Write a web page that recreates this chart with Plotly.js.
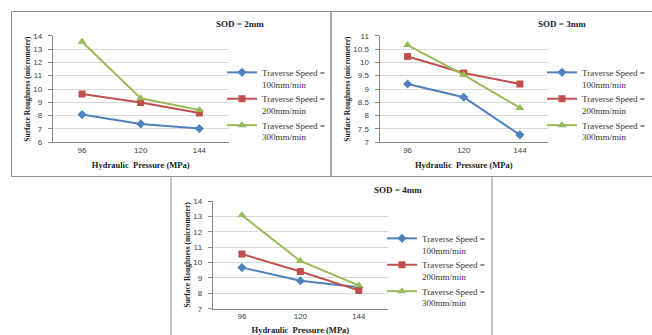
<!DOCTYPE html>
<html>
<head>
<meta charset="utf-8">
<script src="https://cdn.plot.ly/plotly-3.0.1.min.js"></script>
<style>html,body{margin:0;padding:0;background:#fff;}#chart{width:652px;height:335px;}</style>
</head>
<body>
<div id="chart"></div>
<script>
// ---- data ----
const categories = ['96', '120', '144'];
const seriesNames = ['Traverse Speed =<br>100mm/min', 'Traverse Speed =<br>200mm/min', 'Traverse Speed =<br>300mm/min'];
const panelTitles = ['SOD = 2mm', 'SOD = 3mm', 'SOD = 4mm'];
const sod2_100 = [8.08, 7.38, 7.03];
const sod2_200 = [9.63, 8.98, 8.20];
const sod2_300 = [13.55, 9.30, 8.43];
const sod3_100 = [9.19, 8.69, 7.28];
const sod3_200 = [10.22, 9.60, 9.19];
const sod3_300 = [10.65, 9.53, 8.29];
const sod4_100 = [9.67, 8.82, 8.39];
const sod4_200 = [10.55, 9.42, 8.19];
const sod4_300 = [13.07, 10.10, 8.52];
const yRanges = [[6, 14], [7, 11], [7, 14]];
const yDticks = [1, 0.5, 1];

// ---- styles ----
const W = 652, H = 335;
const colors = ['#4F81BD', '#C0504D', '#9BBB59'];
const symbols = ['diamond', 'square', 'triangle-up'];
const msizes = [7, 7, 8];
const serif = '"Liberation Serif", "Times New Roman", serif';
const sans = '"Liberation Sans", Arial, sans-serif';

const px = v => v / W;
const py = v => 1 - v / H;

// plot-area pixel boxes [left, right, top, bottom]
const boxes = [
  [52.7, 228.7, 35.7, 142.3],
  [379.5, 548.0, 35.7, 142.3],
  [212.7, 388.0, 201.0, 308.7]
];
const legendPos = [[222, 60], [542, 60], [382, 226]];
const titlePos = [[240, 24], [562, 24], [398, 190]];

const panels = [
  [sod2_100, sod2_200, sod2_300],
  [sod3_100, sod3_200, sod3_300],
  [sod4_100, sod4_200, sod4_300]
];

const traces = [];
panels.forEach((ser, p) => {
  ser.forEach((vals, s) => {
    traces.push({
      type: 'scatter', mode: 'lines+markers',
      x: categories, y: vals,
      name: seriesNames[s],
      xaxis: p === 0 ? 'x' : 'x' + (p + 1),
      yaxis: p === 0 ? 'y' : 'y' + (p + 1),
      legend: p === 0 ? 'legend' : 'legend' + (p + 1),
      line: {color: colors[s], width: 2},
      marker: {color: colors[s], symbol: symbols[s], size: msizes[s]}
    });
  });
});

const layout = {
  width: W, height: H,
  margin: {l: 0, r: 0, t: 0, b: 0},
  paper_bgcolor: '#ffffff', plot_bgcolor: '#ffffff',
  font: {family: sans, size: 8, color: '#404040'},
  annotations: [],
  shapes: [
    {type: 'rect', xref: 'paper', yref: 'paper', x0: px(11.5), x1: px(331), y0: py(176.5), y1: py(11.5), line: {color: '#8c8c8c', width: 1}},
    {type: 'rect', xref: 'paper', yref: 'paper', x0: px(331), x1: px(660), y0: py(176.5), y1: py(11.5), line: {color: '#8c8c8c', width: 1}},
    {type: 'rect', xref: 'paper', yref: 'paper', x0: px(171), x1: px(492), y0: py(345), y1: py(176.5), line: {color: '#8c8c8c', width: 1}}
  ]
};

boxes.forEach((b, p) => {
  const sfx = p === 0 ? '' : String(p + 1);
  layout['xaxis' + sfx] = {
    domain: [px(b[0]), px(b[1])],
    anchor: 'y' + sfx,
    type: 'category', range: [-0.5, 2.5],
    showgrid: false, zeroline: false,
    showline: true, linecolor: '#868686', linewidth: 1,
    ticks: '', tickfont: {family: sans, size: 8, color: '#404040'},
    title: {text: '<b>Hydraulic  Pressure (MPa)</b>', font: {family: serif, size: 8.5, color: '#222'}, standoff: 8},
    fixedrange: true
  };
  layout['yaxis' + sfx] = {
    domain: [py(b[3]), py(b[2])],
    anchor: 'x' + sfx,
    range: yRanges[p], dtick: yDticks[p], tick0: 0,
    showgrid: true, gridcolor: '#d9d9d9', gridwidth: 1,
    zeroline: false,
    showline: true, linecolor: '#868686', linewidth: 1,
    ticks: 'outside', ticklen: 4, tickcolor: '#868686',
    ticklabelstandoff: 4,
    tickfont: {family: sans, size: 8, color: '#404040'},
    title: {text: '<b>Surface Roughness (micrometer)</b>', font: {family: serif, size: 7.5, color: '#222'}, standoff: 1},
    fixedrange: true
  };
  const lg = p === 0 ? 'legend' : 'legend' + (p + 1);
  layout[lg] = {
    x: px(legendPos[p][0]), y: py(legendPos[p][1]),
    xanchor: 'left', yanchor: 'top',
    bgcolor: 'rgba(0,0,0,0)', borderwidth: 0,
    font: {family: serif, size: 9, color: '#333'},
    valign: 'top', tracegroupgap: 0, itemclick: false
  };
  layout.annotations.push({
    xref: 'paper', yref: 'paper',
    x: px(titlePos[p][0]), y: py(titlePos[p][1]),
    xanchor: 'center', yanchor: 'middle',
    text: '<b>' + panelTitles[p] + '</b>', showarrow: false,
    font: {family: serif, size: 9, color: '#222'}
  });
});

Plotly.newPlot('chart', traces, layout, {displayModeBar: false, staticPlot: true});
</script>
</body>
</html>
